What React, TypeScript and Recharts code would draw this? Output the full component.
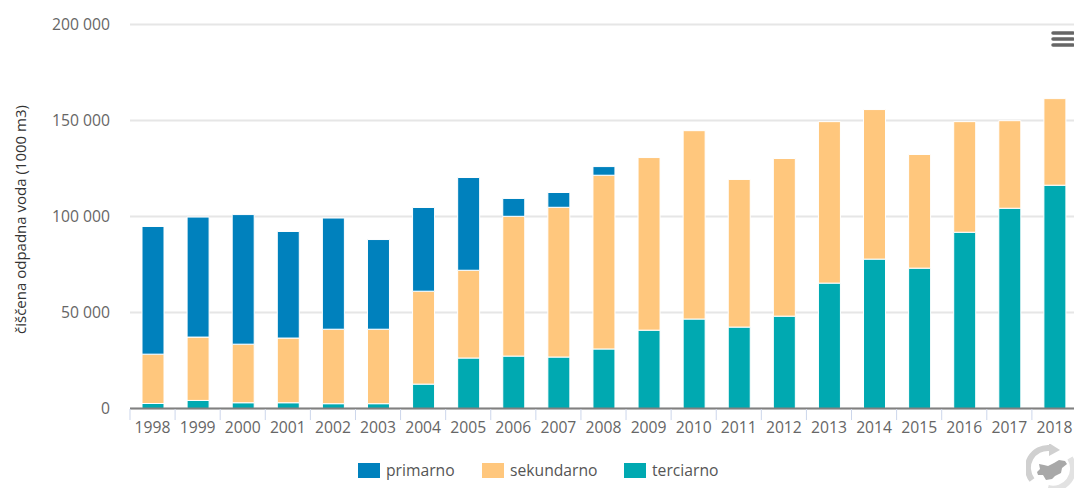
import { BarChart, Bar, XAxis, YAxis, CartesianGrid, Legend } from "recharts";

const years = [
  "1998", "1999", "2000", "2001", "2002", "2003", "2004",
  "2005", "2006", "2007", "2008", "2009", "2010", "2011",
  "2012", "2013", "2014", "2015", "2016", "2017", "2018",
];
const primarno = [
  66500, 62500, 67500, 55500, 57900, 46700, 43600,
  48300, 9300, 7700, 4500, 0, 0, 0,
  0, 0, 0, 0, 0, 0, 0,
];
const sekundarno = [
  25700, 33000, 30500, 33700, 38800, 38800, 48400,
  45700, 72800, 78000, 90500, 89900, 98100, 76900,
  82100, 84100, 77900, 59200, 57600, 45600, 45100,
];
const terciarno = [
  2600, 4200, 3000, 3000, 2500, 2500, 12700,
  26300, 27300, 26800, 31000, 40800, 46600, 42400,
  48100, 65300, 77800, 73100, 91800, 104300, 116300,
];
const yTicks = [0, 50000, 100000, 150000, 200000];

const legendItems = [
  { label: "primarno", color: "#0081bd" },
  { label: "sekundarno", color: "#ffc77d" },
  { label: "terciarno", color: "#00a9b1" },
];

const FONT = "'Open Sans', sans-serif";
const BAND = 45.1;

const chartData = years.map((year, i) => ({
  year,
  primarno: primarno[i],
  sekundarno: sekundarno[i],
  terciarno: terciarno[i],
}));

const formatThousands = (v: number) =>
  String(v).replace(/\B(?=(\d{3})+(?!\d))/g, " ");

// year label under the bar, tick mark on the boundary between two bars
function YearTick({ x, payload }: any) {
  return (
    <g>
      <line x1={x - BAND / 2} x2={x - BAND / 2} y1={409} y2={420} stroke="#ccd6eb" strokeWidth={1} />
      <text x={x} y={433} textAnchor="middle" fontFamily={FONT} fontSize={15.7} fill="#666666">
        {payload.value}
      </text>
    </g>
  );
}

function ChartLegend() {
  const slots = [358, 482, 624];
  return (
    <div style={{ position: "relative", width: 1074, height: 30 }}>
      {legendItems.map((item, i) => (
        <div key={item.label} style={{ position: "absolute", left: slots[i], top: 15, display: "flex", alignItems: "center" }}>
          <span style={{ width: 22, height: 15, background: item.color, display: "inline-block", marginRight: 6 }} />
          <span style={{ fontFamily: FONT, fontSize: 15.7, color: "#555555", lineHeight: "15px" }}>{item.label}</span>
        </div>
      ))}
    </div>
  );
}

function MenuIcon() {
  return (
    <svg width={24} height={18} style={{ position: "absolute", left: 1051, top: 30 }}>
      {[3, 9, 15].map((y) => (
        <line key={y} x1={2} x2={22} y1={y} y2={y} stroke="#666666" strokeWidth={3.5} strokeLinecap="round" />
      ))}
    </svg>
  );
}

// grey round-arrow badge with the country outline inside
function Badge() {
  return (
    <svg width={48} height={44} viewBox="0 0 48 44" style={{ position: "absolute", left: 1026, top: 444 }}>
      <path d="M6 36 A20 20 0 0 1 24 4" fill="none" stroke="#d0d0d0" strokeWidth={6} />
      <path d="M23 -1 L34 6 L23 12 Z" fill="#d0d0d0" />
      <path d="M44 14 A20 20 0 0 1 22 44" fill="none" stroke="#e2e2e2" strokeWidth={6} />
      <path
        d="M11 28 L14 25 L13 20 L18 21 L22 22 L28 19 L33 16 L39 17 L41 20 L36 24 L35 29 L29 32 L26 35 L20 36 L17 31 L12 31 Z"
        fill="#a8a8a8"
      />
    </svg>
  );
}

export default function App() {
  return (
    <div style={{ position: "absolute", left: 0, top: 0, width: 1074, height: 488, overflow: "hidden", background: "#fff" }}>
      <BarChart
        width={1077}
        height={488}
        data={chartData}
        margin={{ top: 24.5, right: 0, bottom: 0, left: 0 }}
        barSize={22}
      >
        <CartesianGrid vertical={false} stroke="#e6e6e6" strokeWidth={2} />
        <XAxis
          dataKey="year"
          height={39.5}
          interval={0}
          axisLine={{ stroke: "#808080", strokeWidth: 2 }}
          tickLine={false}
          tick={<YearTick />}
        />
        <YAxis
          width={130}
          domain={[0, 200000]}
          ticks={yTicks}
          tickFormatter={formatThousands}
          axisLine={false}
          tickLine={false}
          tickMargin={14}
          tick={{ fontFamily: FONT, fontSize: 15.7, fill: "#666666" }}
          label={{
            value: "čiščena odpadna voda (1000 m3)",
            angle: -90,
            position: "insideLeft",
            offset: 21,
            dy: 3,
            style: { fontFamily: FONT, fontSize: 15, fill: "#333333", textAnchor: "middle" },
          }}
        />
        <Legend
          verticalAlign="bottom"
          height={40}
          content={<ChartLegend />}
          wrapperStyle={{ left: 0, width: 1074 }}
        />
        <Bar dataKey="terciarno" stackId="a" fill="#00a9b1" stroke="#ffffff" isAnimationActive={false} />
        <Bar dataKey="sekundarno" stackId="a" fill="#ffc77d" stroke="#ffffff" isAnimationActive={false} />
        <Bar dataKey="primarno" stackId="a" fill="#0081bd" stroke="#ffffff" isAnimationActive={false} />
      </BarChart>
      <MenuIcon />
      <Badge />
    </div>
  );
}
